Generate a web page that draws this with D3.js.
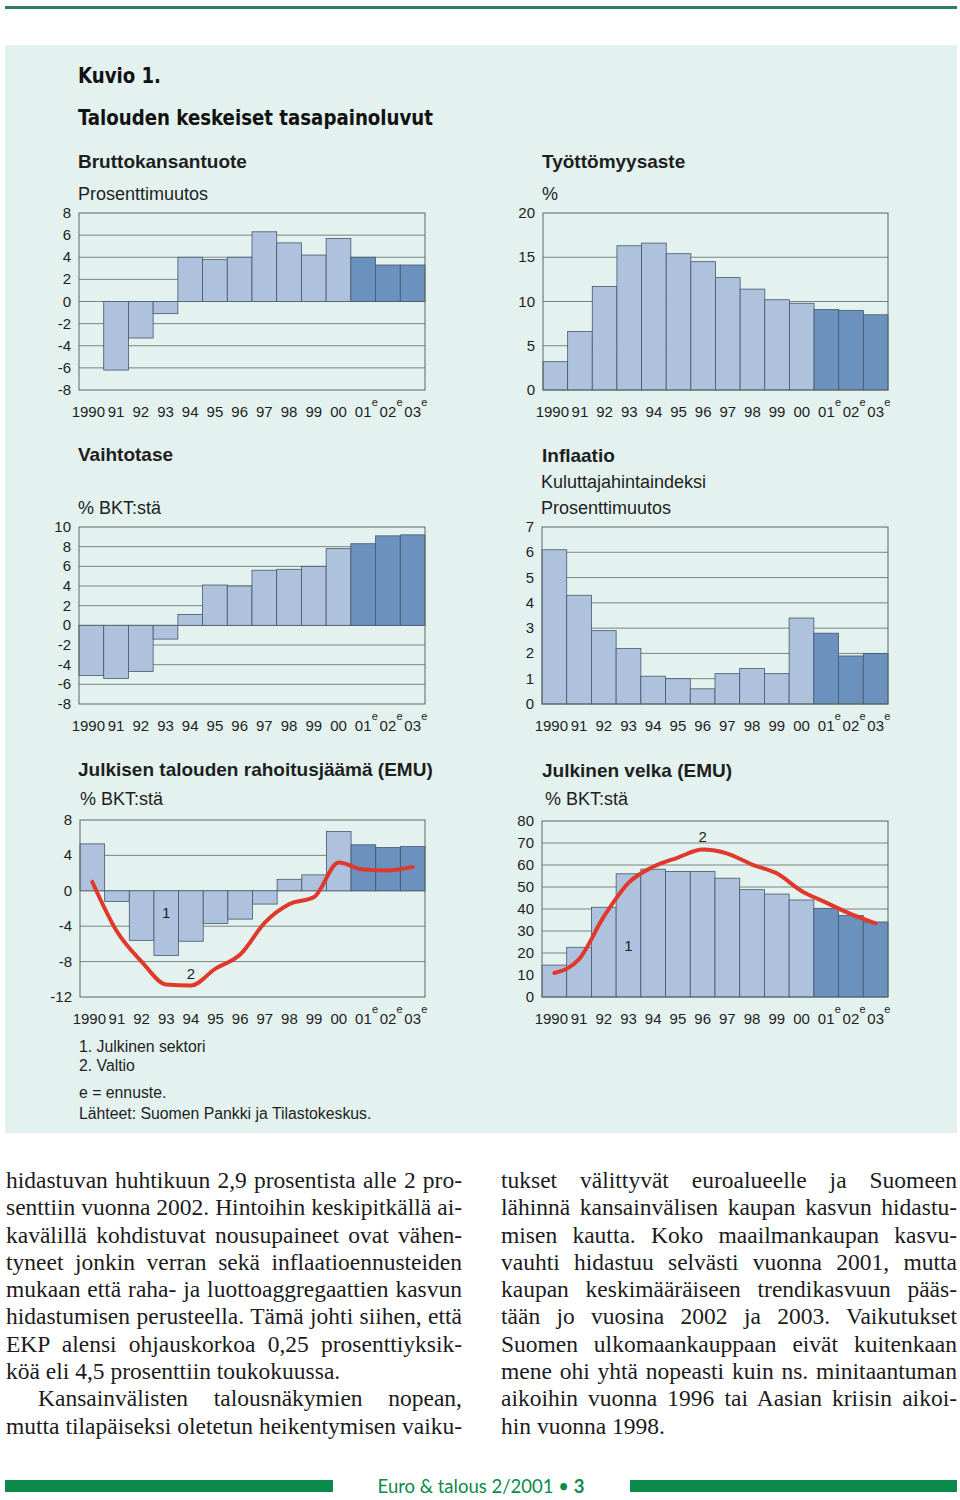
<!DOCTYPE html>
<html>
<head>
<meta charset="utf-8">
<script src="https://cdn.jsdelivr.net/npm/d3@7"></script>
<style>
body { margin: 0; background: #fff; }
#page { position: relative; width: 960px; height: 1500px; overflow: hidden; }
#page svg { position: absolute; left: 0; top: 0; }
.col { position: absolute; top: 1167px; width: 456px; font-family: "Liberation Serif", "Times New Roman", serif; font-size: 23.5px; color: #1b1b1b; }
.col div { height: 27.3px; line-height: 27.3px; white-space: nowrap; text-align: justify; text-align-last: justify; }
.col div.last { text-align-last: left; }
.col div.indent { text-indent: 32px; }
</style>
</head>
<body>
<div id="page"></div>
<script>
// years on the x axis, last three are forecasts (e)
var years = ["1990", "91", "92", "93", "94", "95", "96", "97", "98", "99", "00", "01", "02", "03"];
var isForecast = [false, false, false, false, false, false, false, false, false, false, false, true, true, true];

// values
var gdpGrowth = [0.0, -6.2, -3.3, -1.1, 4.0, 3.8, 4.0, 6.3, 5.3, 4.2, 5.7, 4.0, 3.3, 3.3];
var unemployment = [3.2, 6.6, 11.7, 16.3, 16.6, 15.4, 14.5, 12.7, 11.4, 10.2, 9.8, 9.1, 9.0, 8.5];
var currentAccount = [-5.1, -5.4, -4.7, -1.4, 1.1, 4.1, 4.0, 5.6, 5.7, 6.0, 7.8, 8.3, 9.1, 9.2];
var inflation = [6.1, 4.3, 2.9, 2.2, 1.1, 1.0, 0.6, 1.2, 1.4, 1.2, 3.4, 2.8, 1.9, 2.0];
var publicBalance = [5.3, -1.2, -5.6, -7.3, -5.7, -3.7, -3.2, -1.5, 1.3, 1.8, 6.7, 5.2, 4.9, 5.0];
var stateBalance = [1.0, -4.6, -8.0, -10.6, -10.7, -8.8, -7.2, -3.6, -1.5, -0.7, 3.2, 2.4, 2.3, 2.7];
var publicDebt = [14.5, 22.6, 40.8, 56.0, 58.1, 57.1, 57.1, 54.0, 48.8, 46.8, 44.1, 40.3, 37.1, 34.1];
var stateDebt = [10.9, 17.2, 36.5, 51.9, 59.2, 63.4, 67.0, 65.2, 60.2, 56.2, 48.2, 42.9, 37.7, 33.5];

// tick labels
var gdpTicks = [-8, -6, -4, -2, 0, 2, 4, 6, 8];
var unempTicks = [0, 5, 10, 15, 20];
var caTicks = [-8, -6, -4, -2, 0, 2, 4, 6, 8, 10];
var inflTicks = [0, 1, 2, 3, 4, 5, 6, 7];
var balanceTicks = [-12, -8, -4, 0, 4, 8];
var debtTicks = [0, 10, 20, 30, 40, 50, 60, 70, 80];

var footnotes = ["1. Julkinen sektori", "2. Valtio", "e = ennuste.", "Lähteet: Suomen Pankki ja Tilastokeskus."];

var leftLines = [
    "hidastuvan huhtikuun 2,9 prosentista alle 2 pro-",
    "senttiin vuonna 2002. Hintoihin keskipitkällä ai-",
    "kavälillä kohdistuvat nousupaineet ovat vähen-",
    "tyneet jonkin verran sekä inflaatioennusteiden",
    "mukaan että raha- ja luottoaggregaattien kasvun",
    "hidastumisen perusteella. Tämä johti siihen, että",
    "EKP alensi ohjauskorkoa 0,25 prosenttiyksik-",
    "köä eli 4,5 prosenttiin toukokuussa.",
    "Kansainvälisten talousnäkymien nopean,",
    "mutta tilapäiseksi oletetun heikentymisen vaiku-"
];
var rightLines = [
    "tukset välittyvät euroalueelle ja Suomeen",
    "lähinnä kansainvälisen kaupan kasvun hidastu-",
    "misen kautta. Koko maailmankaupan kasvu-",
    "vauhti hidastuu selvästi vuonna 2001, mutta",
    "kaupan keskimääräiseen trendikasvuun pääs-",
    "tään jo vuosina 2002 ja 2003. Vaikutukset",
    "Suomen ulkomaankauppaan eivät kuitenkaan",
    "mene ohi yhtä nopeasti kuin ns. minitaantuman",
    "aikoihin vuonna 1996 tai Aasian kriisin aikoi-",
    "hin vuonna  1998."
];

var sans = '"Liberation Sans", Arial, Helvetica, sans-serif';
var ink = "#1e1e1e";
var lightBar = "#aec1dd", darkBar = "#6b91bf";

var svg = d3.select("#page").append("svg")
    .attr("width", 960)
    .attr("height", 1500);

// page decoration
svg.append("rect").attr("x", 5).attr("y", 6).attr("width", 952).attr("height", 3).attr("fill", "#2c7d62");
svg.append("rect").attr("x", 5).attr("y", 45).attr("width", 952).attr("height", 1088).attr("fill", "#e3f2ee");

svg.append("text")
    .attr("x", 78).attr("y", 83)
    .attr("font-family", '"Liberation Sans Narrow", "DejaVu Sans Condensed", sans-serif')
    .attr("font-weight", "bold").attr("font-size", 21).attr("fill", "#111")
    .attr("textLength", 83).attr("lengthAdjust", "spacingAndGlyphs")
    .text("Kuvio 1.");
svg.append("text")
    .attr("x", 78).attr("y", 125)
    .attr("font-family", '"Liberation Sans Narrow", "DejaVu Sans Condensed", sans-serif')
    .attr("font-weight", "bold").attr("font-size", 21).attr("fill", "#111")
    .attr("textLength", 355).attr("lengthAdjust", "spacingAndGlyphs")
    .text("Talouden keskeiset tasapainoluvut");

function drawPanel(p) {
    var g = svg.append("g");
    var x = d3.scaleBand().domain(years).range([p.left, p.right]).padding(0);
    var y = d3.scaleLinear().domain([p.ticks[0], p.ticks[p.ticks.length - 1]]).range([p.bottom, p.top]);

    // titles
    g.append("text").attr("x", p.tx).attr("y", p.ty)
        .attr("font-family", sans).attr("font-weight", "bold").attr("font-size", 19)
        .attr("fill", ink).text(p.title);
    p.subs.forEach(function (s) {
        g.append("text").attr("x", s[0]).attr("y", s[1])
            .attr("font-family", sans).attr("font-size", 18)
            .attr("fill", ink).text(s[2]);
    });

    // grid lines
    g.selectAll(".grid")
        .data(p.ticks.slice(1, -1))
        .enter().append("line")
        .attr("x1", p.left).attr("x2", p.right)
        .attr("y1", function (d) { return y(d); })
        .attr("y2", function (d) { return y(d); })
        .attr("stroke", "#6f7774").attr("stroke-width", 0.9);

    // bars
    g.selectAll(".bar")
        .data(p.values)
        .enter().append("rect")
        .attr("x", function (d, i) { return x(years[i]); })
        .attr("width", x.bandwidth())
        .attr("y", function (d) { return y(Math.max(0, d)); })
        .attr("height", function (d) { return Math.abs(y(d) - y(0)); })
        .attr("fill", function (d, i) { return isForecast[i] ? darkBar : lightBar; })
        .attr("stroke", "#46576b").attr("stroke-width", 0.8);

    // frame
    g.append("rect")
        .attr("x", p.left).attr("y", p.top)
        .attr("width", p.right - p.left).attr("height", p.bottom - p.top)
        .attr("fill", "none").attr("stroke", "#5d6663").attr("stroke-width", 1);

    // red line (Valtio)
    if (p.line) {
        g.append("path")
            .datum(p.line)
            .attr("fill", "none")
            .attr("stroke", "#e0392b").attr("stroke-width", 4)
            .attr("stroke-linecap", "round").attr("stroke-linejoin", "round")
            .attr("d", d3.line()
                .x(function (d, i) { return x(years[i]) + x.bandwidth() / 2; })
                .y(function (d) { return y(d); })
                .curve(d3.curveMonotoneX));
    }

    // y tick labels
    g.selectAll(".ytick")
        .data(p.ticks)
        .enter().append("text")
        .attr("x", p.left - 8)
        .attr("y", function (d) { return y(d) + 5; })
        .attr("text-anchor", "end")
        .attr("font-family", sans).attr("font-size", 15)
        .attr("fill", ink)
        .text(function (d) { return d; });

    // x labels
    var xl = g.selectAll(".xtick")
        .data(years)
        .enter().append("g");
    xl.append("text")
        .attr("x", function (d) { return x(d) + x.bandwidth() / 2; })
        .attr("dx", function (d, i) { return i === 0 ? -3 : 0; })
        .attr("y", p.bottom + 27)
        .attr("text-anchor", "middle")
        .attr("font-family", sans).attr("font-size", 15)
        .attr("fill", ink)
        .text(function (d) { return d; });
    xl.filter(function (d, i) { return isForecast[i]; })
        .append("text")
        .attr("x", function (d) { return x(d) + x.bandwidth() / 2 + 8.5; })
        .attr("y", p.bottom + 16)
        .attr("font-family", sans).attr("font-size", 11)
        .attr("fill", ink)
        .text("e");

    // series labels
    if (p.notes) {
        p.notes.forEach(function (n) {
            g.append("text")
                .attr("x", x(years[n[0]]) + x.bandwidth() / 2)
                .attr("y", y(n[1]))
                .attr("text-anchor", "middle")
                .attr("font-family", sans).attr("font-size", 15)
                .attr("fill", ink).text(n[2]);
        });
    }
}

drawPanel({ left: 79, right: 425, top: 213, bottom: 390, ticks: gdpTicks, values: gdpGrowth,
    title: "Bruttokansantuote", tx: 78, ty: 168, subs: [[78, 200, "Prosenttimuutos"]] });
drawPanel({ left: 543, right: 888, top: 213, bottom: 390, ticks: unempTicks, values: unemployment,
    title: "Työttömyysaste", tx: 542, ty: 168, subs: [[542, 200, "%"]] });
drawPanel({ left: 79, right: 425, top: 527, bottom: 704, ticks: caTicks, values: currentAccount,
    title: "Vaihtotase", tx: 78, ty: 461, subs: [[78, 514, "% BKT:stä"]] });
drawPanel({ left: 542, right: 888, top: 527, bottom: 704, ticks: inflTicks, values: inflation,
    title: "Inflaatio", tx: 542, ty: 462, subs: [[541, 488, "Kuluttajahintaindeksi"], [541, 514, "Prosenttimuutos"]] });
drawPanel({ left: 80, right: 425, top: 820, bottom: 997, ticks: balanceTicks, values: publicBalance,
    line: stateBalance, notes: [[3, -3.05, "1"], [4, -10.0, "2"]],
    title: "Julkisen talouden rahoitusjäämä (EMU)", tx: 78, ty: 776, subs: [[80, 805, "% BKT:stä"]] });
drawPanel({ left: 542, right: 888, top: 821, bottom: 997, ticks: debtTicks, values: publicDebt,
    line: stateDebt, notes: [[3, 21, "1"], [6, 70.5, "2"]],
    title: "Julkinen velka (EMU)", tx: 542, ty: 777, subs: [[545, 805, "% BKT:stä"]] });

// footnotes
svg.selectAll(".fn")
    .data(footnotes)
    .enter().append("text")
    .attr("x", 79)
    .attr("y", function (d, i) { return [1052, 1071, 1098, 1119][i]; })
    .attr("font-family", sans).attr("font-size", 15.8)
    .attr("fill", ink)
    .text(function (d) { return d; });

// footer
svg.append("rect").attr("x", 5).attr("y", 1480).attr("width", 328).attr("height", 12).attr("fill", "#0b8a4c");
svg.append("rect").attr("x", 630).attr("y", 1480).attr("width", 327).attr("height", 12).attr("fill", "#0b8a4c");
var ft = svg.append("text")
    .attr("x", 481).attr("y", 1493)
    .attr("text-anchor", "middle")
    .attr("font-family", 'Lato, "Open Sans", sans-serif').attr("font-size", 18.5)
    .attr("fill", "#0b8a4c");
ft.append("tspan").text("Euro & talous 2/2001 • ");
ft.append("tspan").attr("font-weight", "bold").text("3");

// body text columns
function column(lines, left, lastIdx, indentIdx) {
    d3.select("#page").append("div")
        .attr("class", "col")
        .style("left", left + "px")
        .selectAll("div")
        .data(lines)
        .enter().append("div")
        .attr("class", function (d, i) {
            return (lastIdx.indexOf(i) >= 0 ? "last " : "") + (indentIdx.indexOf(i) >= 0 ? "indent" : "");
        })
        .text(function (d) { return d; });
}
column(leftLines, 6, [7], [8]);
column(rightLines, 501, [9], []);
</script>
</body>
</html>
